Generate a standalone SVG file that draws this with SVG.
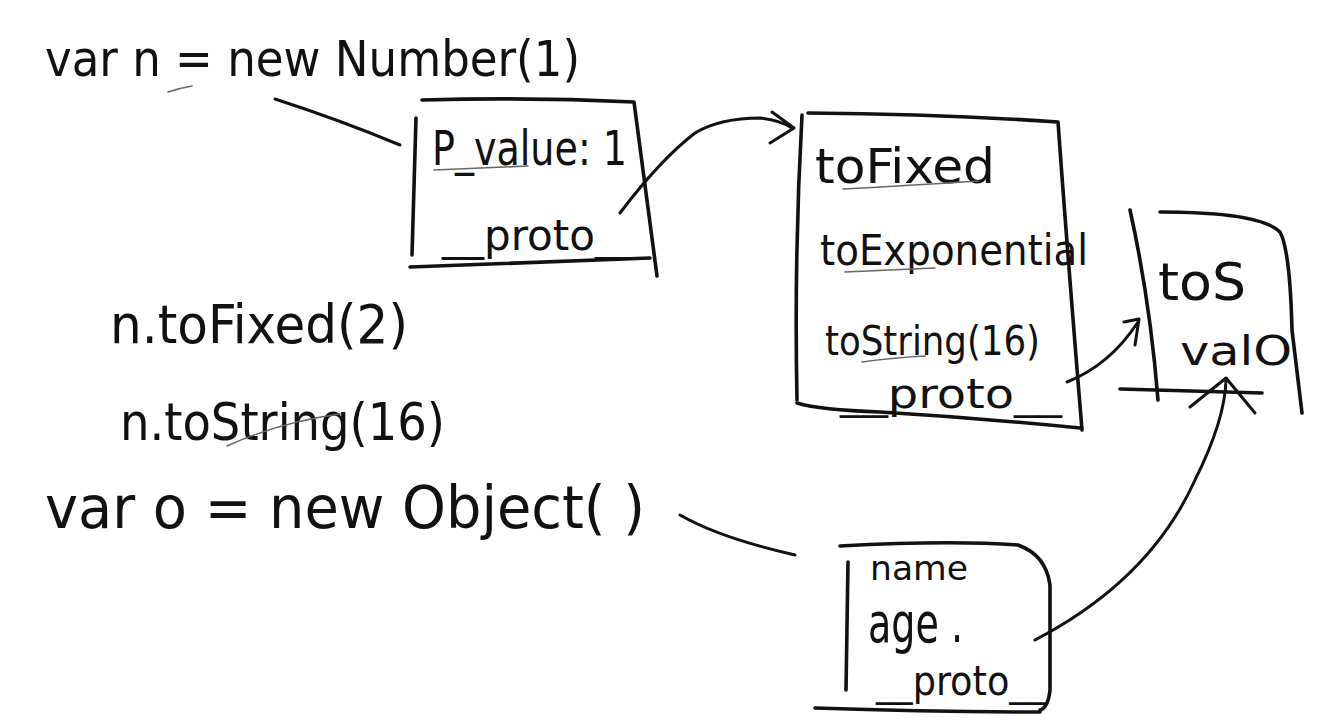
<svg xmlns="http://www.w3.org/2000/svg" width="1336" height="727" viewBox="0 0 1336 727">
<style>
.t{font-family:"DejaVu Sans","Liberation Sans",sans-serif;font-stretch:condensed;fill:#111}
.b{fill:none;stroke:#111;stroke-width:3.6;stroke-linecap:round;stroke-linejoin:round}
.c{fill:none;stroke:#111;stroke-width:3;stroke-linecap:round;stroke-linejoin:round}
.u{fill:none;stroke:#666;stroke-width:1.6;stroke-linecap:round}
</style>
<rect width="1336" height="727" fill="#fff"/>
<g id="code">
<text class="t" x="45" y="76" font-size="50" textLength="535" lengthAdjust="spacingAndGlyphs">var n = new Number(1)</text>
<text class="t" x="110" y="343" font-size="54" textLength="298" lengthAdjust="spacingAndGlyphs">n.toFixed(2)</text>
<text class="t" x="120" y="440" font-size="52" textLength="325" lengthAdjust="spacingAndGlyphs">n.toString(16)</text>
<text class="t" x="45" y="528" font-size="58" textLength="600" lengthAdjust="spacingAndGlyphs">var o = new Object( )</text>
<path class="u" d="M168 92 Q180 88 192 86"/>
<path class="u" d="M227 446 Q280 422 340 414"/>
</g>
<g id="numberObj">
<path class="b" d="M416 118 L412 255"/>
<path class="b" d="M422 100 Q530 97 634 102 L657 276"/>
<path class="b" d="M410 267 Q530 262 650 258"/>
<text class="t" x="432" y="165" font-size="48" textLength="195" lengthAdjust="spacingAndGlyphs">P_value: 1</text>
<text class="t" x="442" y="250" font-size="42" textLength="195" lengthAdjust="spacingAndGlyphs">__proto__</text>
<path class="u" d="M434 170 Q485 168 528 166"/>
</g>
<g id="numberProto">
<path class="b" d="M802 115 Q794 260 797 400"/>
<path class="b" d="M808 113 Q940 114 1058 122 Q1068 260 1082 430"/>
<path class="b" d="M797 403 Q820 410 880 412 Q980 418 1080 428"/>
<text class="t" x="815" y="183" font-size="48" textLength="180" lengthAdjust="spacingAndGlyphs">toFixed</text>
<text class="t" x="820" y="265" font-size="42" textLength="268" lengthAdjust="spacingAndGlyphs">toExponential</text>
<text class="t" x="825" y="355" font-size="40" textLength="215" lengthAdjust="spacingAndGlyphs">toString(16)</text>
<text class="t" x="840" y="408" font-size="40" textLength="222" lengthAdjust="spacingAndGlyphs">__proto__</text>
<path class="u" d="M843 189 Q900 186 978 181"/>
<path class="u" d="M845 272 Q890 270 935 268"/>
<path class="u" d="M862 362 Q890 358 925 356"/>
</g>
<g id="objectProto">
<path class="b" d="M1130 210 Q1150 300 1158 400"/>
<path class="b" d="M1160 212 Q1260 212 1280 232 Q1290 250 1292 330 Q1298 380 1302 413"/>
<path class="b" d="M1120 389 L1262 393"/>
<text class="t" x="1158" y="300" font-size="52" textLength="88" lengthAdjust="spacingAndGlyphs">toS</text>
<text class="t" x="1180" y="365" font-size="40" textLength="112" lengthAdjust="spacingAndGlyphs">valO</text>
</g>
<g id="plainObj">
<path class="b" d="M848 562 L846 690"/>
<path class="b" d="M840 546 Q950 540 1018 545 Q1046 555 1050 585 L1050 690 Q1048 708 1040 710"/>
<path class="b" d="M815 708 Q930 712 1040 712"/>
<text class="t" x="870" y="580" font-size="34" textLength="98" lengthAdjust="spacingAndGlyphs">name</text>
<text class="t" x="868" y="642" font-size="56" textLength="95" lengthAdjust="spacingAndGlyphs">age .</text>
<text class="t" x="876" y="695" font-size="40" textLength="170" lengthAdjust="spacingAndGlyphs">__proto__</text>
</g>
<g id="connectors">
<path class="c" d="M275 99 Q340 120 400 145"/>
<path class="c" d="M620 213 Q660 160 695 133 Q720 118 760 118 Q780 120 792 128"/>
<path class="c" d="M772 112 L794 128 L770 143"/>
<path class="c" d="M1067 382 Q1110 365 1138 322"/>
<path class="c" d="M1124 322 L1139 319 L1135 345"/>
<path class="c" d="M680 515 Q720 538 795 555"/>
<path class="c" d="M1035 640 Q1150 580 1195 480 Q1225 420 1226 380"/>
<path class="c" d="M1190 407 L1226 378 L1255 413"/>
</g>
</svg>
